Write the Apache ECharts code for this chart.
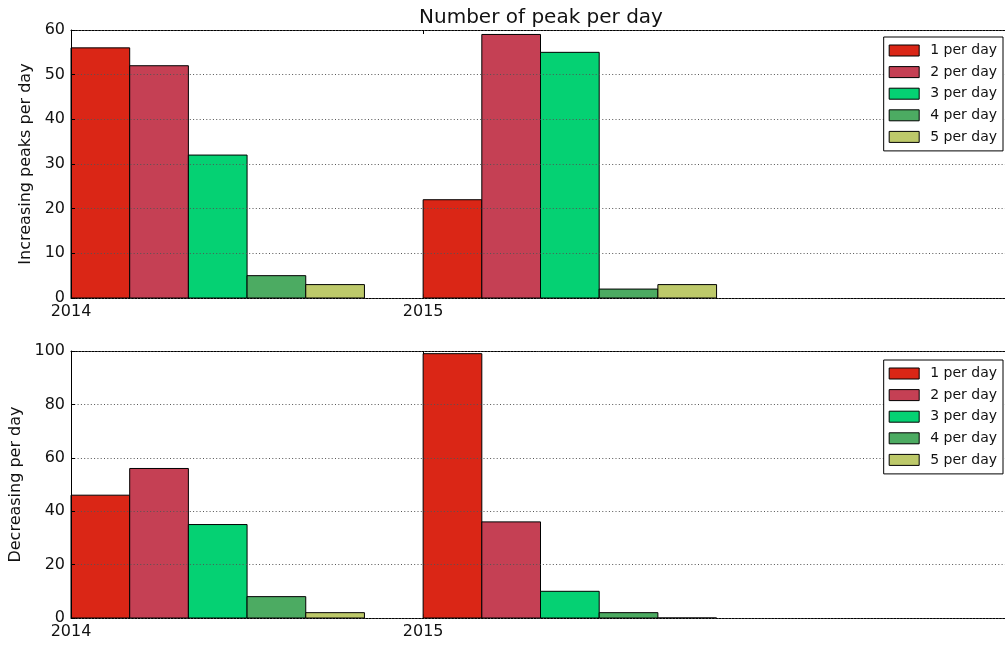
<!DOCTYPE html>
<html>
<head>
<meta charset="utf-8">
<script src="https://cdn.jsdelivr.net/npm/echarts@6/dist/echarts.min.js"></script>
<style>
  html, body { margin: 0; padding: 0; background: #fff; }
  #chart { width: 1005px; height: 645px; }
</style>
</head>
<body>
<div id="chart"></div>
<script>
// Years shown on the x axis
const years = ['2014', '2015'];
// One series per daily peak count
const seriesNames = ['1 per day', '2 per day', '3 per day', '4 per day', '5 per day'];
// Increasing peaks: one array per series, one value per year
const incOne   = [56, 22];
const incTwo   = [52, 59];
const incThree = [32, 55];
const incFour  = [5, 2];
const incFive  = [3, 3];
// Decreasing peaks: one array per series, one value per year
const decOne   = [46, 99];
const decTwo   = [56, 36];
const decThree = [35, 10];
const decFour  = [8, 2];
const decFive  = [2, 0];
// y tick ranges
const incTicks = { min: 0, max: 60, step: 10 };
const decTicks = { min: 0, max: 100, step: 20 };

const increasing = [incOne, incTwo, incThree, incFour, incFive];
const decreasing = [decOne, decTwo, decThree, decFour, decFive];
const colors = ['#da2616', '#c54054', '#05d173', '#4cab62', '#bdc96a'];

// Each year takes six bar slots: five bars and one empty slot
const SLOTS_PER_YEAR = 6;
const X_MAX = 16;
const yearTicks = years.map((y, i) => i * SLOTS_PER_YEAR);

const FONT = 'DejaVu Sans';
const TEXT = '#111';

function renderBar(params, api) {
  const x = api.value(0);
  const v = api.value(1);
  const p0 = api.coord([x, v]);
  const p1 = api.coord([x + 1, 0]);
  return {
    type: 'rect',
    shape: { x: p0[0], y: p0[1], width: p1[0] - p0[0], height: p1[1] - p0[1] },
    style: { fill: api.visual('color'), stroke: '#000', lineWidth: 1 }
  };
}

function buildSeries(table, xIdx, yIdx) {
  return table.map((vals, s) => ({
    type: 'custom',
    name: seriesNames[s],
    xAxisIndex: xIdx,
    yAxisIndex: yIdx,
    itemStyle: { color: colors[s] },
    renderItem: renderBar,
    encode: { x: 0, y: 1 },
    data: vals.map((v, g) => [g * SLOTS_PER_YEAR + s, v]),
    z: 2
  }));
}

function bottomX(gridIndex) {
  return {
    type: 'value', gridIndex, position: 'bottom', min: 0, max: X_MAX,
    axisLine: { show: true, lineStyle: { color: '#000', width: 1 } },
    axisTick: { show: true, inside: true, length: 4, customValues: yearTicks, lineStyle: { color: '#000' } },
    axisLabel: {
      show: true, customValues: yearTicks, margin: 6,
      fontFamily: FONT, fontSize: 16, color: TEXT,
      formatter: v => years[Math.round(v / SLOTS_PER_YEAR)] || ''
    },
    splitLine: { show: false }
  };
}
function topX(gridIndex) {
  return {
    type: 'value', gridIndex, position: 'top', min: 0, max: X_MAX,
    axisLine: { show: true, lineStyle: { color: '#000', width: 1 } },
    axisTick: { show: true, inside: true, length: 4, customValues: yearTicks, lineStyle: { color: '#000' } },
    axisLabel: { show: false },
    splitLine: { show: false }
  };
}
function leftY(gridIndex, ticks, name, gap) {
  return {
    type: 'value', gridIndex, min: ticks.min, max: ticks.max, interval: ticks.step,
    name, nameLocation: 'middle', nameGap: gap,
    nameTextStyle: { fontFamily: FONT, fontSize: 16, color: TEXT },
    axisLine: { show: true, lineStyle: { color: '#000', width: 1 } },
    axisTick: { show: true, inside: true, length: 4, lineStyle: { color: '#000' } },
    axisLabel: { margin: 6, fontFamily: FONT, fontSize: 16, color: TEXT },
    splitLine: { show: true, lineStyle: { color: '#555', width: 1, type: [1, 2.3] } },
    z: 5
  };
}
function legendAt(top) {
  return {
    orient: 'vertical', right: 2, top,
    data: seriesNames,
    icon: 'rect',
    itemWidth: 30, itemHeight: 11, itemGap: 7.6,
    padding: [6.5, 6, 7, 5],
    backgroundColor: '#fff', borderColor: '#000', borderWidth: 1, borderRadius: 0,
    itemStyle: { borderColor: '#000', borderWidth: 1 },
    textStyle: { fontFamily: FONT, fontSize: 14, color: TEXT, lineHeight: 14, padding: [0, 0, 0, 6] },
    selectedMode: false,
    z: 10
  };
}

const chart = echarts.init(document.getElementById('chart'), null, { renderer: 'canvas' });
chart.setOption({
  animation: false,
  backgroundColor: '#fff',
  title: {
    text: 'Number of peak per day',
    left: 541, top: 8, textAlign: 'center', padding: 0,
    textStyle: { fontFamily: FONT, fontSize: 20, fontWeight: 'normal', color: TEXT }
  },
  grid: [
    { left: 71, top: 30, right: -5, height: 268, outerBoundsMode: 'none', containLabel: false },
    { left: 71, top: 351, right: -5, height: 267, outerBoundsMode: 'none', containLabel: false }
  ],
  xAxis: [bottomX(0), topX(0), bottomX(1), topX(1)],
  yAxis: [
    leftY(0, incTicks, 'Increasing peaks per day', 35),
    leftY(1, decTicks, 'Decreasing per day', 44)
  ],
  legend: [legendAt(37), legendAt(360)],
  series: [
    ...buildSeries(increasing, 0, 0),
    ...buildSeries(decreasing, 2, 1)
  ]
});
</script>
</body>
</html>
